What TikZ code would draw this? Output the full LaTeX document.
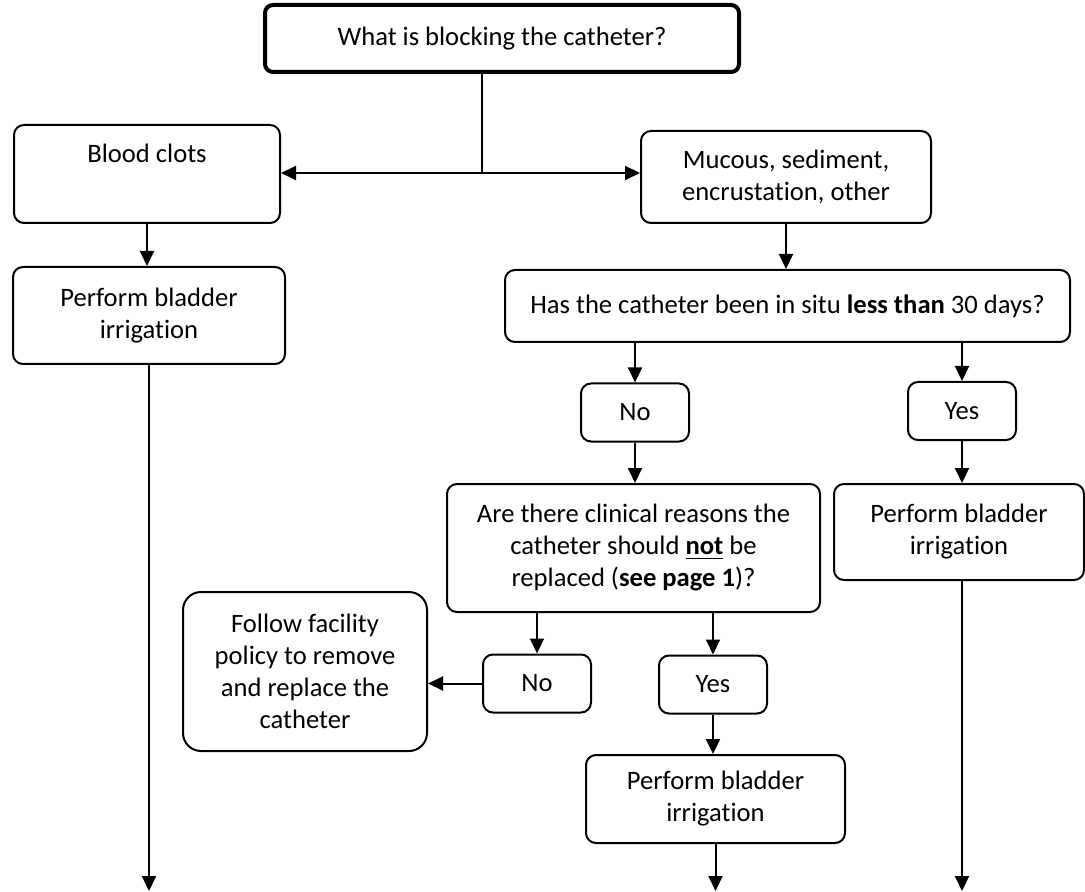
\documentclass[tikz,border=0pt]{standalone}
\usepackage{fontspec}
\setmainfont{Carlito}[Ligatures=NoCommon]
\usetikzlibrary{arrows.meta}

\begin{document}
\begin{tikzpicture}[%
    x=0.5pt, y=-0.5pt,                       % one unit is one pixel of the sketch
    >={Triangle[length=7.5pt,width=7pt]},    % Filled heads, as in the sketch
    font=\fontsize{13.3pt}{16pt}\selectfont, % Global text setup
    ]
% -------------------------------------------------
% A few box styles
\tikzset{
  base/.style={draw, line width=1pt, rounded corners=5pt, align=center, inner sep=0pt},
  head/.style={base, line width=2pt, rounded corners=4pt},
  ans/.style={base, minimum width=54pt, minimum height=29pt},
  % Connector line styles
  norm/.style={->, line width=1pt},
  stem/.style={line width=1pt}
}
\useasboundingbox (0,0) rectangle (1085,892);
% -------------------------------------------------
% Start by placing the nodes

\node [head, minimum width=237pt, minimum height=33.5pt] (q) at (502,38.5) {What is blocking the catheter?};
\node [base, minimum width=133pt, minimum height=49pt] (clots) at (147,174) {Blood clots\\ \strut};
\node [base, minimum width=145pt, minimum height=46pt] (muc) at (786,177) {Mucous, sediment,\\encrustation, other};
\node [base, minimum width=136pt, minimum height=48.5pt] (irr1) at (149,315.5) {Perform bladder\\irrigation};
\node [base, minimum width=282.5pt, minimum height=36pt] (situ) at (787.5,306) {Has the catheter been in situ \textbf{less than} 30 days?};
\node [ans] (no1) at (635,412.5) {No};
\node [ans] (yes1) at (962,411) {Yes};
\node [base, minimum width=186.5pt, minimum height=64pt] (clin) at (633.5,548) {Are there clinical reasons the\\catheter should \underline{\textbf{not}} be\\replaced (\textbf{see page 1})?};
\node [base, minimum width=125pt, minimum height=48pt] (irr3) at (959,532) {Perform bladder\\irrigation};
\node [ans] (no2) at (537,683.5) {No};
\node [ans] (yes2) at (713,684.5) {Yes};
\node [base, rounded corners=9pt, minimum width=122pt, minimum height=79.5pt] (follow) at (305,671.5) {Follow facility\\policy to remove\\and replace the\\catheter};
\node [base, minimum width=129.5pt, minimum height=44pt] (irr2) at (715.5,799) {Perform bladder\\irrigation};

% Free ends of the lines
\coordinate (split) at (482,173);
\coordinate (bot) at (0,891);

\draw[stem] (q.south -| split) -- (split);                     %question,split
\draw[norm, <->] (clots.east |- split) -- (muc.west |- split); %clots,mucous
\draw[norm] (clots.south) -- (clots.south |- irr1.north);      %clots,irrigation
\draw[norm] (irr1.south) -- (irr1.south |- bot);               %irrigation,end
\draw[norm] (muc.south) -- (muc.south |- situ.north);          %mucous,in situ
\draw[norm] (no1.north |- situ.south) -- (no1.north);          %in situ,No
\draw[norm] (yes1.north |- situ.south) -- (yes1.north);        %in situ,Yes
\draw[norm] (yes1.south) -- (yes1.south |- irr3.north);        %Yes,irrigation
\draw[norm] (yes1.south |- irr3.south) -- (yes1.south |- bot); %irrigation,end
\draw[norm] (no1.south) -- (no1.south |- clin.north);          %No,clinical
\draw[norm] (no2.north |- clin.south) -- (no2.north);          %clinical,No
\draw[norm] (yes2.north |- clin.south) -- (yes2.north);        %clinical,Yes
\draw[norm] (no2.west) -- (no2.west -| follow.east);           %No,replace
\draw[norm] (yes2.south) -- (yes2.south |- irr2.north);        %Yes,irrigation
\draw[norm] (irr2.south) -- (irr2.south |- bot);               %irrigation,end

% -------------------------------------------------
\end{tikzpicture}
\end{document}
